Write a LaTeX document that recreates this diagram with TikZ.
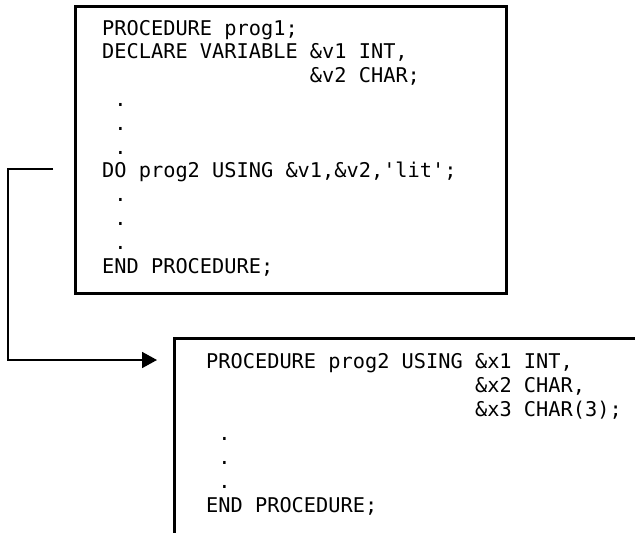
\documentclass[tikz,border=0pt]{standalone}
\usepackage{fontspec}
\setmonofont{DejaVu Sans Mono}
\usetikzlibrary{arrows.meta}
\begin{document}
\begin{tikzpicture}[x=1pt,y=-1pt,
  box/.style={draw, rectangle, line width=2.7pt, inner sep=0pt},
  % multi-line text: its base anchor sits on the baseline of the last line
  code/.style={font=\ttfamily\fontsize{20.3}{23.8}\selectfont,
               align=left, inner sep=0pt, anchor=base west},
  link/.style={line width=1.8pt},
  calltip/.style={-{Triangle[length=15pt,width=16pt]}}]
\useasboundingbox (0,0) rectangle (635,533);
\clip (0,0) rectangle (635,533);

% calling procedure
\node[box, minimum width=431pt, minimum height=287pt, anchor=north west]
  (caller) at (74,5) {};
\node[code] (callertext) at (102,273)
  {PROCEDURE prog1;\\
   DECLARE VARIABLE \&v1 INT,\\
   \hphantom{DECLARE VARIABLE }\&v2 CHAR;\\
   \hphantom{0}.\\
   \hphantom{0}.\\
   \hphantom{0}.\\
   DO prog2 USING \&v1,\&v2,'lit';\\
   \hphantom{0}.\\
   \hphantom{0}.\\
   \hphantom{0}.\\
   END PROCEDURE;};

% called procedure (runs off the right and bottom edges)
\node[box, minimum width=600pt, minimum height=300pt, anchor=north west]
  (callee) at (173,337) {};
\node[code, font=\ttfamily\fontsize{20.3}{24}\selectfont] (calleetext) at (206,512)
  {PROCEDURE prog2 USING \&x1 INT,\\
   \hphantom{PROCEDURE prog2 USING }\&x2 CHAR,\\
   \hphantom{PROCEDURE prog2 USING }\&x3 CHAR(3);\\
   \hphantom{0}.\\
   \hphantom{0}.\\
   \hphantom{0}.\\
   END PROCEDURE;};

% call connector
\coordinate (callstart) at (53,169);
\coordinate (corner) at (8,169);
\coordinate (calltarget) at (157,360);
\draw[link, calltip] (callstart) -- (corner) |- (calltarget);
\end{tikzpicture}
\end{document}
